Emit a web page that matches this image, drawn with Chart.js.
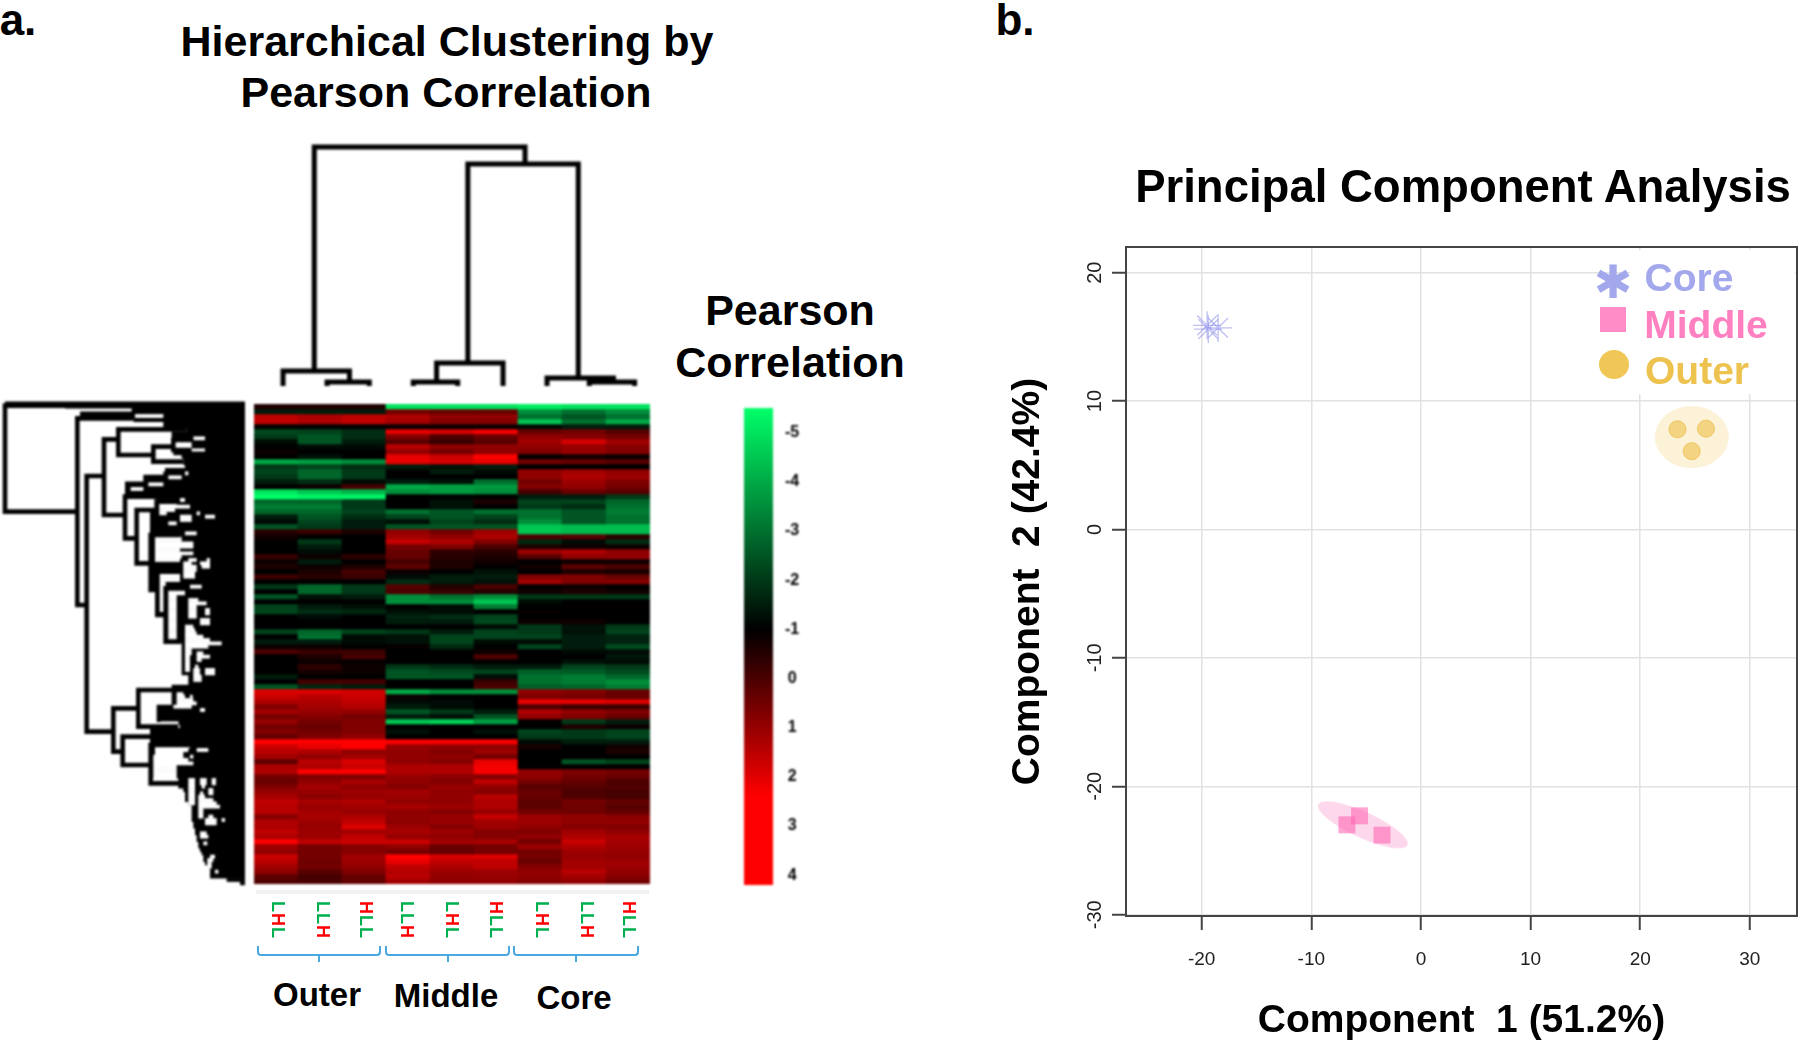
<!DOCTYPE html>
<html>
<head>
<meta charset="utf-8">
<title>Hierarchical clustering and PCA</title>
<script src="https://cdn.jsdelivr.net/npm/chart.js@4"></script>
<style>
html, body { margin: 0; padding: 0; background: #fff; width: 1800px; height: 1045px; overflow: hidden; }
body { font-family: "Liberation Sans", Arial, sans-serif; color: #000; position: relative; }
.box { position: absolute; }
.box canvas { display: block; }
.soft { filter: blur(0.8px); }
.txt { position: absolute; font-weight: bold; white-space: nowrap; transform: translate(-50%, -50%); line-height: 1; }
.sample { position: absolute; top: 901px; writing-mode: vertical-rl; font-size: 18px; font-weight: bold; line-height: 1; letter-spacing: 1px; transform: translateX(-50%); filter: blur(0.4px); }
.brace { position: absolute; top: 946px; height: 8px; border: 2px solid #4aa8e0; border-top: none; border-radius: 0 0 4px 4px; }
.brace i { position: absolute; left: 50%; top: 8px; width: 2px; height: 8px; margin-left: -1px; background: #4aa8e0; }
#legendBox { position: absolute; left: 1630px; top: 250px; width: 165px; height: 144px; background: #fff; }
</style>
</head>
<body>

<div class="box soft" style="left:254px;top:136px;width:396px;height:260px"><canvas id="colTree"></canvas></div>
<div class="box soft" style="left:0;top:390px;width:260px;height:510px"><canvas id="rowTree"></canvas></div>
<div class="box soft" style="left:254px;top:404px;width:396px;height:480px"><canvas id="heat"></canvas></div>
<div class="box soft" style="left:744px;top:408px;width:70px;height:477px"><canvas id="colorBar"></canvas></div>
<div class="box" style="left:1000px;top:200px;width:800px;height:845px"><canvas id="pca"></canvas></div>

<div class="txt" style="left:18px;top:20px;font-size:44px">a.</div>
<div class="txt" style="left:1015px;top:20px;font-size:44px">b.</div>
<div class="txt" style="left:447px;top:41px;font-size:43px">Hierarchical Clustering by</div>
<div class="txt" style="left:446px;top:92px;font-size:43px">Pearson Correlation</div>
<div class="txt" style="left:790px;top:310px;font-size:43px">Pearson</div>
<div class="txt" style="left:790px;top:362px;font-size:43px">Correlation</div>
<div class="txt" style="left:1463px;top:187px;font-size:45.5px">Principal Component Analysis</div>

<div style="position:absolute;left:256px;top:890px;width:393px;height:4px;background:#f1f1f1"></div>
<div id="samples"></div>
<div class="brace" style="left:257px;width:120px"><i></i></div>
<div class="brace" style="left:385px;width:121px"><i></i></div>
<div class="brace" style="left:513px;width:122px"><i></i></div>
<div class="txt" style="left:317px;top:994px;font-size:33px">Outer</div>
<div class="txt" style="left:446px;top:995px;font-size:33px">Middle</div>
<div class="txt" style="left:574px;top:997px;font-size:33px">Core</div>

<div id="legendBox"></div>
<div class="txt" style="left:1613px;top:282px;font-size:46px;color:#a3a8ec;font-family:'DejaVu Sans'">✱</div>
<div style="position:absolute;left:1600px;top:307px;width:26px;height:25px;background:#ff8cc6"></div>
<div style="position:absolute;left:1599px;top:350px;width:30px;height:29px;border-radius:50%;background:#f0c757"></div>
<div class="txt" style="left:1689px;top:277px;font-size:39px;color:#a3a8ec">Core</div>
<div class="txt" style="left:1706px;top:324px;font-size:39px;color:#ff80c0">Middle</div>
<div class="txt" style="left:1697px;top:370px;font-size:39px;color:#eec24e">Outer</div>

<script>
// heatmap, one row per band, columns Outer x3, Middle x3, Core x3
const heatRows = [
    [-0.5,-0.5,-0.5, -5,-5,-5, -5.2,-5,-5],
    [-1.5,-1.5,-1.5, 1,0.8,0.8, -3.5,-3,-3.5],
    [2.3,2,2.3, 2,1.5,1.5, -3,-2.5,-3],
    [2.3,2,2.3, 1.8,1.3,1.3, -4.5,-3,-4],
    [-1,-1,-1, -0.8,-0.8,-0.8, -1.2,-1.5,-1.5],
    [-2.3,-2.2,-1.8, 3,2.7,3.2, 0.8,1,0.5],
    [-2,-2.5,-1.8, 1.2,0.3,0.8, 1.5,1.3,1],
    [-1.2,-2.5,-1.5, 0.5,0,0.5, 1.8,2.7,1.8],
    [-1,-1.2,-1.2, 2.2,1.5,1.5, 1.5,1.6,1.3],
    [-0.8,-1,-1, 1.5,1,1.5, 1.2,1.6,1.2],
    [-1,-1.3,-1, 3,2.5,3.5, -1,-0.7,-0.8],
    [-4,-3.8,-3.5, 3,2.7,3, 1,0.8,0.5],
    [-2,-2.2,-1.8, -1.5,-1.3,-1.5, -1,-1,-1],
    [-2.2,-2.8,-2, -1,-1.5,-1.2, 1.5,1.8,1.5],
    [-2,-2.8,-2, -1,-1,-1, 1.5,2,1.7],
    [-1.5,-1.8,-1.2, -1.5,-1.3,-3, 1,1.7,1.2],
    [-1,-0.8,0.2, -4,-3.8,-3.7, 1.3,1.5,1],
    [-5,-4.5,-4.2, -3.5,-3.7,-3.5, 0.2,0.8,0.5],
    [-5.5,-5.3,-5.3, -1,-1,-1, -1.5,-1.5,-2],
    [-2.8,-2.8,-2, -1,-1.3,-0.5, -2.2,-2.2,-2.8],
    [-3.2,-3.2,-2, -1,-1.3,-1, -2,-1.8,-3],
    [-2.8,-2.8,-2.2, -3,-2.5,-3, -3,-2.5,-3.2],
    [-1.5,-2.5,-1.8, -2.2,-2.5,-2.2, -3,-2.5,-3],
    [-1.2,-2.2,-1.5, -1.3,-2.2,-1.8, -3.5,-2.5,-3],
    [-2.5,-2,-1.5, -2.5,-2.5,-2.5, -4.5,-4.3,-4.3],
    [-0.3,0,-0.5, 1.5,1,1.7, -4.5,-4.3,-4.3],
    [-0.7,-1,-1, 1.8,1.5,2, 0.3,0.5,-0.3],
    [-1,-2,-1, 2.4,2,1.2, -1.7,-1.2,-1.8],
    [-1,-1.5,-1, 1,1.2,0.3, -0.5,-0.7,-0.8],
    [-1,-1.2,-1, 0.8,-0.2,-0.3, 1.7,2,1.5],
    [0,-0.8,-0.2, 0.7,-0.3,-0.5, 0.5,1.5,1.5],
    [-0.8,-1.5,-1, 0.2,-0.5,-0.7, -1,-0.8,-0.7],
    [-0.5,-0.8,-0.5, 0.6,-0.5,-1, -0.7,0.6,0.3],
    [-1,-0.5,0.2, -0.8,-1,-1.3, -1,-0.5,-0.6],
    [0.1,-0.3,0, -1.2,-1.5,-1.5, 1.2,1.2,0.8],
    [-1,-1,-1, -1.8,-1.5,-1.3, 1.8,1.2,1.3],
    [-2,-2.8,-2, 0.5,-0.4,0.3, -1,-0.8,-1],
    [-1,-2.8,-2, 0.3,0,-0.4, -0.7,-0.5,-0.7],
    [-2.5,-1.3,-1.5, -3.5,-3,-3.5, -2,-2,-2],
    [-1,-1,-1, -3.5,-3.5,-4.5, -1.2,-1,-1],
    [-2.2,-1.5,-1.3, -1,-1.2,-3.2, -1,-1,-1],
    [-2.2,-1.8,-1.7, -1.3,-1.2,-1, -0.9,-1,-1],
    [-1,-1.2,-1, -1.6,-1.8,-2.2, -1,-1,-1],
    [-1,-1,-1, -1.5,-1.5,-2.3, -0.8,-0.7,-1],
    [-1,-1,-1, -1,-1,-1.2, -2,-1.3,-2],
    [-2.2,-2.8,-2.2, -2,-1.5,-2.2, -2,-1.3,-2.2],
    [-1,-3,-1.2, -1.3,-2.2,-2.2, -2.2,-1.5,-1.6],
    [-1.5,-1.5,-1.2, -1.3,-2.2,-1.2, -1.2,-1.5,-1.6],
    [-0.8,-0.8,-1, -0.9,-1.7,-1, -2.2,-1.5,-2.3],
    [0.3,0,0, -1,-1,-0.8, -1,-1.2,-1.2],
    [-1,-0.5,0.2, -1,-1,0.4, -1,-1,-1.4],
    [-1,-0.8,-0.9, -1,-1,-1, -1,-1.3,-1.2],
    [-1,-0.2,-0.8, -2,-1.8,-1.5, -1.5,-2.2,-2],
    [-1,-0.6,-0.8, -2.5,-2.3,-2.2, -2.7,-2.6,-2.3],
    [-1.5,-1,-1, -2.5,-2.5,-1.2, -3,-3.2,-2.8],
    [-1,0.2,0.2, -1,-1,0, -3,-3.2,-3.5],
    [-2.5,-1.7,-1.5, -1,-1,0.3, -2.7,-2.8,-3.2],
    [2.8,2.8,2.6, -4,-3.5,-3.5, 1.5,1.3,0.8],
    [2.5,2.2,2.5, -0.8,-1,-1, 1.2,1,0.8],
    [2,2,2.3, -1.2,-1.2,-1, 3,3,2.8],
    [1.2,1.8,2.1, -1.5,-1.2,-1, 0.3,0,0],
    [1.8,1.6,1.5, -2.5,-2,-1.5, 2,1.5,1.2],
    [1,1.3,1, -1.5,-1.3,-2.5, 1.5,1.2,0.8],
    [1.6,1,1.2, -4.5,-4.7,-3.8, -1,-2,-1.5],
    [1,0.8,1.2, -1,-1,-1, -1,-0.5,-0.8],
    [1.2,1,1.2, -1.3,-1,-1.3, -2.2,-2,-2.2],
    [0.7,1.2,1.5, -1,-1,-1, -2,-2,-2.2],
    [3.5,3.5,3.8, 3.3,3.3,3.3, -1.2,-1.5,-1.5],
    [2.5,3,3.8, 1.6,1.5,1.5, -0.6,-1,-0.7],
    [2.2,2,1.5, 1.5,1.2,1.7, -1,-1,-0.5],
    [1.8,1.5,1.8, 1.5,1.5,1, -1,-1,-1],
    [0.6,2.2,2.8, 1.5,1.3,3, -1,-2.5,-2.2],
    [2,2,2.5, 2,2,3.2, -1,-1,-1],
    [2,3.8,3.4, 2,2,3.3, 1.5,1.2,1],
    [1,1.2,1.2, 1.6,1.4,1.3, 1.5,1,0.8],
    [0.8,1.5,1.9, 1.5,1.3,2.3, 1,0.7,0.3],
    [1.2,1.8,1.5, 1.3,1.6,1.5, 0.5,0.5,0.4],
    [1.6,1.6,1.7, 1.8,1.5,1.3, 0.8,0.3,0.2],
    [1.9,1.4,1.6, 1.7,1.5,2.2, 0.8,0.4,0.2],
    [2.3,1.9,2, 1.5,1.5,2, 0.6,1,0.7],
    [2.2,1.6,1.8, 1.9,1.7,2, 0.6,0.9,0.5],
    [2.2,1.8,1.6, 1.5,1.3,1.6, 1,0.9,0.7],
    [1.3,1.9,2, 1.5,1.6,2.4, 1.7,1.5,1.4],
    [2,1.7,2.3, 1.4,1.6,1.8, 1.7,1.5,1.5],
    [2,1.6,2.8, 1.7,1.3,1.7, 1.5,1.3,1.2],
    [2.3,1.7,1.8, 1.9,1.7,1.3, 1.2,1.8,1.5],
    [2,1.7,2.3, 1.6,1.5,1.3, 1.5,2,1.9],
    [3.5,2.3,2.5, 2.5,1.8,1.9, 1,2.5,1.8],
    [1.7,1,1.3, 1.5,0.8,1, 1.7,2,1.7],
    [1.5,1,1.3, 1,0.7,1, 1,1.7,1.6],
    [2.5,1,1.8, 3.5,2.7,2.8, 1,1.6,1.5],
    [2.2,0.9,1.7, 3,2.3,2.3, 0.8,1.8,1.7],
    [1.8,1,1.5, 2.3,2,2.3, 1.3,1.8,1.7],
    [1.4,0.5,1.2, 2.1,1.7,1.7, 1.5,2.2,1.5],
    [0.6,0.2,0.7, 2.2,1.5,1.6, 1.5,1.8,1.3],
    [0.4,0.3,0.7, 1.8,1.5,1.5, 1.3,1.5,1]
];
const sampleLabels = ['LHL','LLH','HLL','LLH','LHL','HLL','LHL','LLH','HLL'];
const sampleOffsets = [2,3,2,-1,0,0,2,3,1];

// column dendrogram: x in column units, height in tree units
// each link is one U: [xLeft, hLeftChild, xRight, hRightChild, h]
const colTreeLinks = [
    [1.37,1.5, 6.16,22.2, 23.9],
    [4.86,2.3, 7.37,0.8, 22.2],
    [0.66,0, 2.17,0.4, 1.5],
    [1.66,0, 2.62,0, 0.4],
    [4.15,0.4, 5.66,0, 2.3],
    [3.62,0, 4.63,0, 0.4],
    [6.66,0, 8.17,0.4, 0.8],
    [7.62,0, 8.65,0, 0.4]
];

// row dendrogram: tree position across, leaf position down
// each link: [x, leafTop, leafBottom, armTopEnd, armBottomEnd]
const rowTreeLinks = [
    [15,47,365,200,225],
    [232,85,645,400,260],
    [260,258,1025,312,340],
    [312,148,375,355,375],
    [355,118,195,560,460],
    [460,170,215,520,550],
    [520,150,180,580,575],
    [375,320,445,470,410],
    [410,360,520,470,452],
    [470,335,400,540,500],
    [452,435,600,545,472],
    [472,545,675,540,497],
    [497,595,755,560,545],
    [340,955,1085,415,368],
    [415,900,1010,555,535],
    [368,1040,1125,450,450],
    [452,1065,1180,575,540]
];
// where the black leaf fan starts, one value per leaf from position 40, every 10
const rowLeafEdge = [
    15,195,395,240,240,400,490,490,560,515,515,575,575,575,615,520,545,550,550,555,
    495,490,430,430,375,375,375,375,375,470,470,470,405,450,450,450,450,450,450,450,
    450,450,450,450,450,450,450,450,450,450,450,450,450,450,450,450,450,465,465,465,
    465,465,465,465,497,497,497,497,497,497,497,497,545,545,545,545,545,545,545,545,
    545,545,565,565,565,515,515,515,515,515,515,470,470,470,470,470,535,540,450,450,
    450,450,450,450,450,450,450,450,450,450,450,450,450,535,535,535,550,555,555,555,
    565,575,575,575,575,575,580,580,585,585,590,590,595,595,600,605,610,610,615,625,
    630,630,630,680,720,735
];
// white holes inside the fan: [leaf, from, to]
const rowLeafGaps = [
    [78,405,490],[145,580,615],[250,555,565],[262,505,545],[283,445,490],[297,392,430],
    [330,540,555],[340,478,530],[350,478,570],[360,478,525],[370,478,500],[370,590,600],
    [380,540,575],[380,615,645],[390,540,575],[400,505,530],[430,555,590],[440,465,545],
    [450,465,545],[460,465,580],[470,465,580],[480,465,540],[490,465,580],[500,465,545],
    [510,465,540],[510,565,590],[510,620,630],[520,550,575],[520,600,630],[530,550,590],
    [530,605,630],[540,550,590],[550,478,540],[550,550,585],[560,478,540],[560,550,585],
    [570,478,540],[580,478,497],[590,478,497],[590,570,605],[600,478,497],[600,505,555],
    [610,478,497],[610,505,555],[620,478,497],[620,505,530],[630,478,497],[630,505,530],
    [630,565,595],[640,478,497],[640,505,530],[640,565,620],[650,478,497],[650,505,530],
    [650,565,590],[660,478,497],[660,505,530],[660,565,590],[660,615,630],[670,505,530],
    [670,565,590],[670,615,630],[680,505,530],[680,565,590],[690,505,530],[690,600,630],
    [700,505,530],[700,600,630],[710,505,530],[710,555,580],[720,505,530],[720,555,585],
    [730,505,530],[730,555,590],[740,505,530],[740,555,610],[750,505,530],[750,555,630],
    [760,555,665],[770,555,625],[780,555,575],[790,555,575],[790,590,610],[800,555,570],
    [800,590,630],[810,555,570],[810,590,605],[820,555,570],[830,555,570],[830,585,595],
    [840,555,570],[840,580,600],[840,615,645],[850,580,600],[850,615,645],[860,580,605],
    [870,580,605],[910,530,550],[920,530,555],[920,570,578],[930,530,580],[940,530,590],
    [950,520,575],[960,600,615],[1000,482,535],[1070,465,570],[1080,465,565],[1080,590,625],
    [1090,465,550],[1100,460,550],[1100,570,580],[1110,460,565],[1120,460,580],[1130,460,530],
    [1140,460,530],[1150,460,530],[1160,460,530],[1170,460,530],[1170,565,585],[1170,600,620],
    [1170,635,648],[1180,565,585],[1180,600,620],[1180,635,648],[1190,565,585],[1190,605,615],
    [1200,565,585],[1200,625,640],[1210,565,585],[1210,600,610],[1210,625,640],[1220,565,585],
    [1220,595,615],[1230,565,585],[1230,595,640],[1240,565,585],[1240,595,650],[1250,595,660],
    [1260,595,610],[1270,595,610],[1280,595,610],[1280,625,640],[1290,615,650],[1290,665,675],
    [1300,615,650],[1330,600,620],[1340,600,625],[1360,610,622],[1400,630,645],[1410,622,640],
    [1420,622,635],[1430,622,635],[1445,645,655]
];

// colour key
const keyRange = [-5.5, 4.2];
const keyTicks = [-5,-4,-3,-2,-1,0,1,2,3,4];
const keyStops = [-5.5, -1, 2.4, 4.2];
const keyColors = ['#00ff69', '#000000', '#ff0000', '#ff0000'];

// PCA scores
const coreX = [-19.5, -18.5, -19.4];
const coreY = [15.9, 15.7, 15.6];
const middleX = [-6.75, -5.6, -3.55];
const middleY = [-23.0, -22.3, -23.8];
const outerX = [23.4, 26.0, 24.7];
const outerY = [7.8, 7.85, 6.1];
const middleCentre = [{x: -5.3, y: -23}];
const outerCentre = [{x: 24.7, y: 7.2}];
const xTicks = [-20,-10,0,10,20,30];
const yTicks = [-30,-20,-10,0,10,20];

Chart.defaults.animation = false;
Chart.defaults.responsive = true;
Chart.defaults.maintainAspectRatio = false;
Chart.defaults.font.family = '"Liberation Sans", Arial, sans-serif';
Chart.defaults.plugins.legend.display = false;
Chart.defaults.plugins.tooltip.enabled = false;

function heatColor(v) {
    if (v <= -1) {
        const t = Math.min((-1 - v) / 4.5, 1);
        return `rgb(0,${Math.round(255 * t)},${Math.round(105 * t)})`;
    }
    const t = Math.min((v + 1) / 4.4, 1);
    return `rgb(${Math.round(255 * t)},0,0)`;
}

function hiddenAxis(min, max, reverse) {
    return { type: 'linear', display: false, min: min, max: max, reverse: !!reverse };
}

function lineSet(points, color, width) {
    return {
        data: points, showLine: true, pointRadius: 0, borderColor: color, borderWidth: width,
        borderJoinStyle: 'miter', fill: false, tension: 0
    };
}

// heatmap
new Chart(document.getElementById('heat'), {
    type: 'bar',
    data: {
        labels: sampleLabels.map((s, i) => i),
        datasets: heatRows.map((row, r) => ({
            data: row.map(() => [r, r + 1]),
            backgroundColor: row.map(heatColor),
            borderWidth: 0,
            barPercentage: 1,
            categoryPercentage: 1
        }))
    },
    options: {
        layout: { padding: 0 },
        scales: {
            x: { display: false, stacked: true },
            y: hiddenAxis(0, heatRows.length, true)
        }
    }
});

// column dendrogram
new Chart(document.getElementById('colTree'), {
    type: 'scatter',
    data: {
        datasets: colTreeLinks.map(l => lineSet([
            {x: l[0], y: l[1]}, {x: l[0], y: l[4]}, {x: l[2], y: l[4]}, {x: l[2], y: l[3]}
        ], '#000', 5))
    },
    options: { scales: { x: hiddenAxis(0, 9), y: hiddenAxis(-1, 25) } }
});

// row dendrogram, first dataset is painted last
const rowSets = [];
rowTreeLinks.forEach(l => rowSets.push(lineSet([
    {x: l[3], y: l[1]}, {x: l[0], y: l[1]}, {x: l[0], y: l[2]}, {x: l[4], y: l[2]}
], '#000', 4.6)));
rowLeafGaps.forEach(g => rowSets.push(lineSet([{x: g[1], y: g[0]}, {x: g[2], y: g[0]}], '#fff', 3.8)));
rowLeafEdge.forEach((edge, i) => rowSets.push(lineSet([
    {x: edge, y: 40 + i * 10}, {x: 735, y: 40 + i * 10}
], '#000', 3.8)));

new Chart(document.getElementById('rowTree'), {
    type: 'scatter',
    data: { datasets: rowSets },
    options: { scales: { x: hiddenAxis(0, 780), y: hiddenAxis(0, 1530, true) } }
});

// colour key
new Chart(document.getElementById('colorBar'), {
    type: 'bar',
    data: {
        labels: ['key'],
        datasets: [{
            data: [keyRange],
            barPercentage: 1,
            categoryPercentage: 1,
            borderWidth: 0,
            backgroundColor: function (c) {
                if (!c.chart.chartArea) return '#000';
                const y = c.chart.scales.y;
                const g = c.chart.ctx.createLinearGradient(0, y.getPixelForValue(keyRange[0]), 0, y.getPixelForValue(keyRange[1]));
                keyStops.forEach((v, i) => g.addColorStop((v - keyRange[0]) / (keyRange[1] - keyRange[0]), keyColors[i]));
                return g;
            }
        }]
    },
    options: {
        scales: {
            x: { display: false },
            y: {
                position: 'right',
                reverse: true,
                min: keyRange[0],
                max: keyRange[1],
                afterBuildTicks: s => { s.ticks = keyTicks.map(v => ({ value: v })); },
                afterFit: s => { s.width = 41; s.paddingTop = 0; s.paddingBottom = 0; },
                grid: { display: false, drawTicks: false },
                border: { display: false },
                ticks: {
                    color: '#000', padding: 12, crossAlign: 'center',
                    font: { size: 16, weight: 'bold' }
                }
            }
        }
    }
});

// sprite for the shaded group ellipses
function ellipseSprite(rx, ry, color) {
    const c = document.createElement('canvas');
    c.width = rx * 2 + 2;
    c.height = ry * 2 + 2;
    const ctx = c.getContext('2d');
    ctx.fillStyle = color;
    ctx.beginPath();
    ctx.ellipse(rx + 1, ry + 1, rx, ry, 0, 0, Math.PI * 2);
    ctx.fill();
    return c;
}

function zip(xs, ys) {
    return xs.map((x, i) => ({ x: x, y: ys[i] }));
}

const frame = {
    id: 'frame',
    afterDraw(chart) {
        const a = chart.chartArea, ctx = chart.ctx;
        ctx.save();
        ctx.strokeStyle = '#444';
        ctx.lineWidth = 2;
        ctx.strokeRect(a.left, a.top, a.right - a.left, a.bottom - a.top);
        ctx.restore();
    }
};

new Chart(document.getElementById('pca'), {
    type: 'scatter',
    data: {
        datasets: [
            { data: zip(coreX, coreY), pointStyle: 'star', pointRadius: 14, borderColor: 'rgba(140,140,235,0.55)', borderWidth: 1.3 },
            { data: zip(middleX, middleY), pointStyle: 'rect', pointRadius: 12, backgroundColor: 'rgba(255,105,180,0.6)', borderWidth: 0 },
            { data: zip(outerX, outerY), pointStyle: 'circle', pointRadius: 8.5, backgroundColor: 'rgba(238,195,85,0.65)', borderColor: 'rgba(238,195,85,0.9)', borderWidth: 1 },
            { data: middleCentre, pointStyle: ellipseSprite(49, 13, '#fdd8ec'), pointRadius: 10, rotation: 24.5 },
            { data: outerCentre, pointStyle: ellipseSprite(37, 31, '#fcf2d8'), pointRadius: 10 }
        ]
    },
    options: {
        layout: { autoPadding: false, padding: { top: 47, right: 3, left: 0, bottom: 0 } },
        scales: {
            x: {
                min: -26.9, max: 34.3,
                afterBuildTicks: s => { s.ticks = xTicks.map(v => ({ value: v })); },
                afterFit: s => { s.height = 129; },
                grid: { color: '#e2e2e2', lineWidth: 1.5, tickColor: '#444', tickLength: 14, tickWidth: 2 },
                border: { display: false },
                ticks: { color: '#222', padding: 18, font: { size: 19 }, maxRotation: 0 },
                title: { display: true, text: 'Component  1 (51.2%)', color: '#000', font: { size: 39, weight: 'bold' }, padding: { top: 0, bottom: 0 } }
            },
            y: {
                min: -30.1, max: 22,
                afterBuildTicks: s => { s.ticks = yTicks.map(v => ({ value: v })); },
                afterFit: s => { s.width = 126; },
                grid: { color: '#e2e2e2', lineWidth: 1.5, tickColor: '#444', tickLength: 14, tickWidth: 2 },
                border: { display: false },
                ticks: { color: '#222', padding: 2, font: { size: 20 }, minRotation: 90, maxRotation: 90, crossAlign: 'center' },
                title: { display: true, text: 'Component  2 (42.4%)', color: '#000', font: { size: 39, weight: 'bold' }, padding: { top: 5, bottom: 0 } }
            }
        }
    },
    plugins: [frame]
});

// sample labels under the heatmap, L green and H red
const heatLeft = 254, colWidth = 44;
const holder = document.getElementById('samples');
sampleLabels.forEach((s, i) => {
    const el = document.createElement('div');
    el.className = 'sample';
    el.style.left = (heatLeft + colWidth * (i + 0.5) + sampleOffsets[i]) + 'px';
    s.split('').forEach(ch => {
        const span = document.createElement('span');
        span.textContent = ch;
        span.style.color = ch === 'H' ? '#ff0000' : '#00b050';
        el.appendChild(span);
    });
    holder.appendChild(el);
});
</script>
</body>
</html>
